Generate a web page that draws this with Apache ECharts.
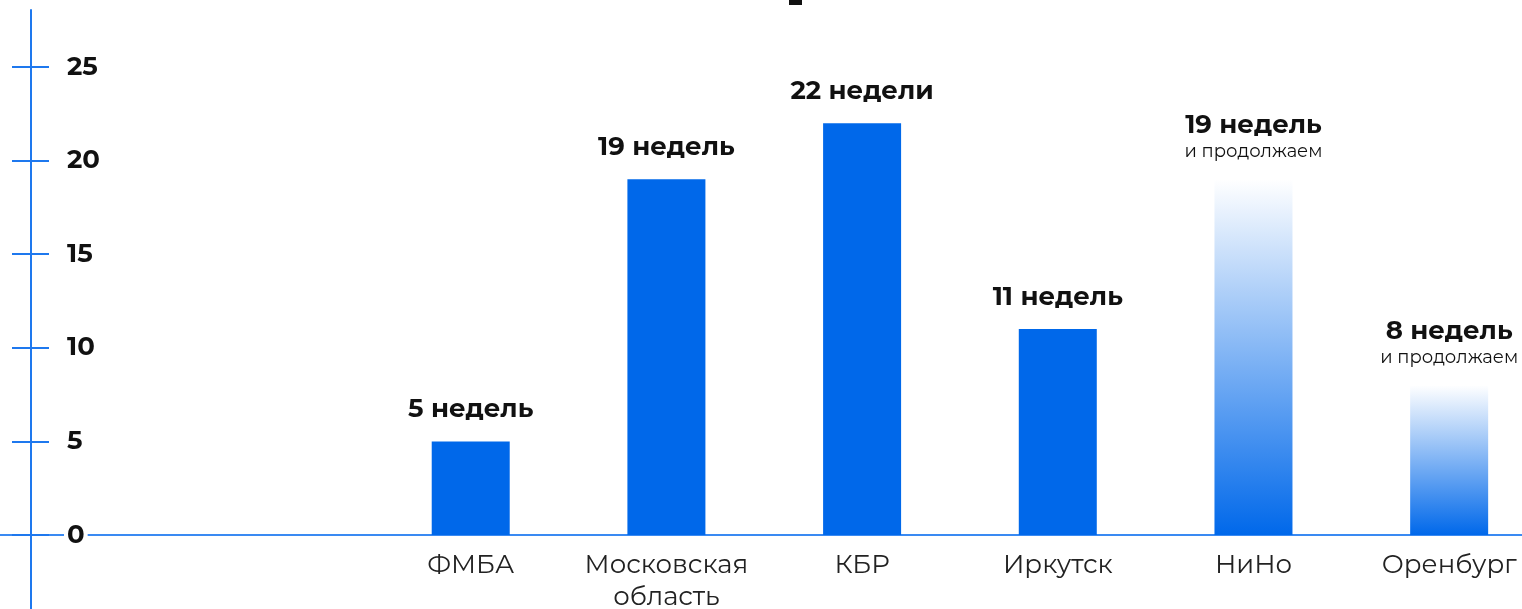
<!DOCTYPE html>
<html><head><meta charset="utf-8">
<script src="https://cdn.jsdelivr.net/npm/echarts@6/dist/echarts.min.js"></script>
<style>html,body{margin:0;padding:0;background:#fff}#c{width:1522px;height:609px}</style>
</head><body><div id="c"></div>
<script>
var categories = ['', '', 'ФМБА', 'Московская\nобласть', 'КБР', 'Иркутск', 'НиНо', 'Оренбург'];
var weeks = [null, null, 5, 19, 22, 11, 19, 8];
var mainLabels = ['', '', '5 недель', '19 недель', '22 недели', '11 недель', '19 недель', '8 недель'];
var subLabels = ['', '', '', '', '', '', 'и продолжаем', 'и продолжаем'];
var ongoing = [false, false, false, false, false, false, true, true];
var yTicks = [0, 5, 10, 15, 20, 25];

var FONT = 'Montserrat, Inter, "Noto Sans", sans-serif';
var BLUE = '#0068EA';
var gradient = new echarts.graphic.LinearGradient(0, 0, 0, 1, [
  {offset: 0, color: 'rgba(255,255,255,1)'},
  {offset: 1, color: BLUE}
]);

var data = weeks.map(function (v, i) {
  return {value: v, itemStyle: {color: ongoing[i] ? gradient : BLUE}};
});

var chart = echarts.init(document.getElementById('c'), null, {renderer: 'canvas'});
chart.setOption({
  animation: false,
  backgroundColor: '#fff',
  textStyle: {fontFamily: FONT},
  grid: [
    {left: -18.5, right: -25, top: -26.6, bottom: 74, containLabel: false, outerBoundsMode: 'none'},
    {left: 31, width: 1, top: 10, bottom: -20, containLabel: false, outerBoundsMode: 'none'}
  ],
  graphic: [{type: 'rect', shape: {x: 789, y: -6, width: 13, height: 11}, style: {fill: '#111'}}],
  xAxis: [{
    type: 'category', gridIndex: 0, data: categories, position: 'bottom',
    axisLine: {show: true, onZero: false, lineStyle: {color: '#3A8AF2', width: 2}},
    axisTick: {show: false},
    axisLabel: {fontSize: 26, color: '#222', lineHeight: 32, margin: 14, fontFamily: FONT, interval: 0}
  }, {
    type: 'value', gridIndex: 1, show: false
  }],
  yAxis: [{
    type: 'value', gridIndex: 0, min: 0, max: 30, interval: 5, position: 'left', offset: -49.5, z: 5,
    axisLine: {show: false},
    axisTick: {show: true, length: 19, inside: false, lineStyle: {color: '#1E78EE', width: 2}},
    splitLine: {show: false},
    axisLabel: {
      inside: true, margin: 33, fontSize: 26, fontWeight: 'bold', color: '#111', fontFamily: FONT,
      backgroundColor: '#fff', padding: [0, 3],
      formatter: function (v) { return yTicks.indexOf(v) >= 0 ? String(v) : ''; }
    }
  }, {
    type: 'value', gridIndex: 0, min: 0, max: 30, interval: 5, position: 'left', offset: -49.5,
    axisLine: {show: false},
    axisTick: {show: true, length: 18, inside: true, lineStyle: {color: '#1E78EE', width: 2}},
    splitLine: {show: false},
    axisLabel: {show: false}
  }, {
    type: 'value', gridIndex: 1, min: 0, max: 1, position: 'left',
    axisLine: {show: true, lineStyle: {color: '#1E78EE', width: 2}},
    axisTick: {show: false}, axisLabel: {show: false}, splitLine: {show: false}
  }],
  series: [{
    type: 'bar', xAxisIndex: 0, yAxisIndex: 0, barWidth: 78, data: data,
    label: {
      show: true, position: 'top', distance: 17,
      formatter: function (p) {
        var i = p.dataIndex;
        return subLabels[i] ? '{a|' + mainLabels[i] + '}\n{b|' + subLabels[i] + '}' : '{a|' + mainLabels[i] + '}';
      },
      rich: {
        a: {fontSize: 26, fontWeight: 'bold', lineHeight: 30, color: '#111', fontFamily: FONT},
        b: {fontSize: 18, lineHeight: 22, color: '#111', fontFamily: FONT}
      }
    }
  }]
});
</script></body></html>
